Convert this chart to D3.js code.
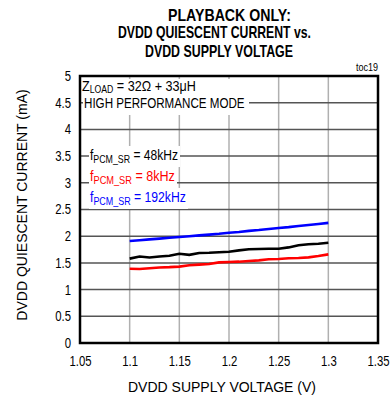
<!DOCTYPE html>
<html><head><meta charset="utf-8">
<script src="https://cdn.jsdelivr.net/npm/d3@7"></script>
<style>body{margin:0;background:#fff}svg{display:block}text{font-family:"Liberation Sans",Arial,sans-serif}</style>
</head><body><svg id="c" width="391" height="397"></svg>
<script>
const voltages = [1.10,1.11,1.12,1.13,1.14,1.15,1.16,1.17,1.18,1.19,1.20,1.21,1.22,1.23,1.24,1.25,1.26,1.27,1.28,1.29,1.30];
const current48k = [1.58,1.62,1.60,1.62,1.635,1.67,1.65,1.685,1.69,1.70,1.71,1.735,1.755,1.76,1.766,1.766,1.79,1.83,1.848,1.86,1.878];
const current8k = [1.39,1.385,1.40,1.415,1.42,1.43,1.455,1.467,1.48,1.51,1.517,1.523,1.536,1.548,1.567,1.573,1.586,1.592,1.604,1.629,1.66];
const current192k = [1.91,1.925,1.94,1.955,1.97,1.985,2.0,2.015,2.03,2.045,2.065,2.08,2.10,2.115,2.135,2.155,2.17,2.19,2.21,2.23,2.25];
const xTicks = [1.05,1.1,1.15,1.2,1.25,1.3,1.35];
const yTicks = [0,0.5,1,1.5,2,2.5,3,3.5,4,4.5,5];
const titleLines = ["PLAYBACK ONLY:","DVDD QUIESCENT CURRENT vs.","DVDD SUPPLY VOLTAGE"];
const seriesLabels = ["48kHz","8kHz","192kHz"];

const svg = d3.select("#c");
const L=80,R=378,T=76,B=343;
const x = d3.scaleLinear().domain([1.05,1.35]).range([L,R]);
const y = d3.scaleLinear().domain([0,5]).range([B,T]);

function squeezeTo(t, target){
  const w = t.node().getBBox().width;
  const s = target / w;
  const x0 = +t.attr("x") || 0;
  t.attr("transform", `translate(${x0*(1-s)},0) scale(${s},1)`);
}
function squeeze(t, s){
  const x0 = +t.attr("x") || 0;
  t.attr("transform", `translate(${x0*(1-s)},0) scale(${s},1)`);
}

// grid
svg.append("g").selectAll("line").data(xTicks.slice(1,-1)).join("line")
  .attr("x1",d=>x(d)).attr("x2",d=>x(d)).attr("y1",T).attr("y2",B)
  .attr("stroke","#b0b0b0").attr("stroke-width",1.5);
svg.append("g").selectAll("line").data(yTicks.slice(1,-1)).join("line")
  .attr("x1",L).attr("x2",R).attr("y1",d=>y(d)).attr("y2",d=>y(d))
  .attr("stroke","#555").attr("stroke-width",1.5);

// axes labels
const xa = svg.append("g").attr("transform",`translate(0,${B})`)
  .call(d3.axisBottom(x).tickValues(xTicks).tickFormat(d=>String(+d.toFixed(2))).tickSize(0).tickPadding(13));
xa.select(".domain").remove();
xa.selectAll("text").attr("font-size",14).attr("fill","#000").style("font-family",null).each(function(){squeeze(d3.select(this),0.81);});
const ya = svg.append("g").attr("transform",`translate(${L},0)`)
  .call(d3.axisLeft(y).tickValues(yTicks).tickFormat(d=>String(d)).tickSize(0).tickPadding(9));
ya.select(".domain").remove();
ya.selectAll("text").attr("font-size",14).attr("fill","#000").style("font-family",null).each(function(){squeeze(d3.select(this),0.81);});

// annotation box
const ann = svg.append("g");
ann.append("rect").attr("x",83).attr("y",79).attr("width",166).attr("height",36).attr("fill","#fff");
const t1 = ann.append("text").attr("x",82).attr("y",91).attr("font-size",14.5);
t1.append("tspan").text("Z");
t1.append("tspan").attr("font-size",10).attr("dy",2).text("LOAD");
t1.append("tspan").attr("dy",-2).text(" = 32Ω + 33μH");
squeezeTo(t1,114);
const t2 = ann.append("text").attr("x",84).attr("y",108.5).attr("font-size",14.5).text("HIGH PERFORMANCE MODE");
squeezeTo(t2,161);

const labColors = ["#000","#ff0000","#0000ff"], labBase=[160,181,202], labW=[88,85,96];
seriesLabels.forEach((v,i)=>{
  const g = ann.append("g");
  const r = g.append("rect").attr("fill","#fff");
  const t = g.append("text").attr("x",90).attr("y",labBase[i]).attr("font-size",15).attr("fill",labColors[i]);
  t.append("tspan").text("f");
  t.append("tspan").attr("font-size",11).attr("dy",3).text("PCM_SR");
  t.append("tspan").attr("dy",-3).text(" = "+v);
  squeezeTo(t,labW[i]);
  r.attr("x",89).attr("y",labBase[i]-14).attr("width",labW[i]+3).attr("height",21);
});

// lines
const line = d3.line().x((d,i)=>x(voltages[i])).y(d=>y(d));
[[current8k,"#ff0000"],[current48k,"#000"],[current192k,"#0000ff"]].forEach(([s,c])=>{
  svg.append("path").datum(s).attr("d",line).attr("fill","none").attr("stroke",c).attr("stroke-width",2.6);
});

// frame
svg.append("rect").attr("x",L).attr("y",T).attr("width",R-L).attr("height",B-T)
  .attr("fill","none").attr("stroke","#000").attr("stroke-width",2.5);

const toc = svg.append("text").attr("x",R).attr("y",71).attr("text-anchor","end").attr("font-size",10).text("toc19");
squeeze(toc,0.9);

// titles
const tx=[168,118,145], tb=[20.7,38.5,57.3], tw=[123,193,148];
titleLines.forEach((s,i)=>{
  const t = svg.append("text").attr("x",tx[i]).attr("y",tb[i])
    .attr("font-size",16.5).attr("font-weight","bold").text(s);
  squeezeTo(t,tw[i]);
});

svg.append("text").attr("x",222).attr("y",392).attr("text-anchor","middle").attr("font-size",14).text("DVDD SUPPLY VOLTAGE (V)");
svg.append("text").attr("transform","translate(27,205) rotate(-90)").attr("text-anchor","middle").attr("font-size",14).text("DVDD QUIESCENT CURRENT (mA)");
</script></body></html>
